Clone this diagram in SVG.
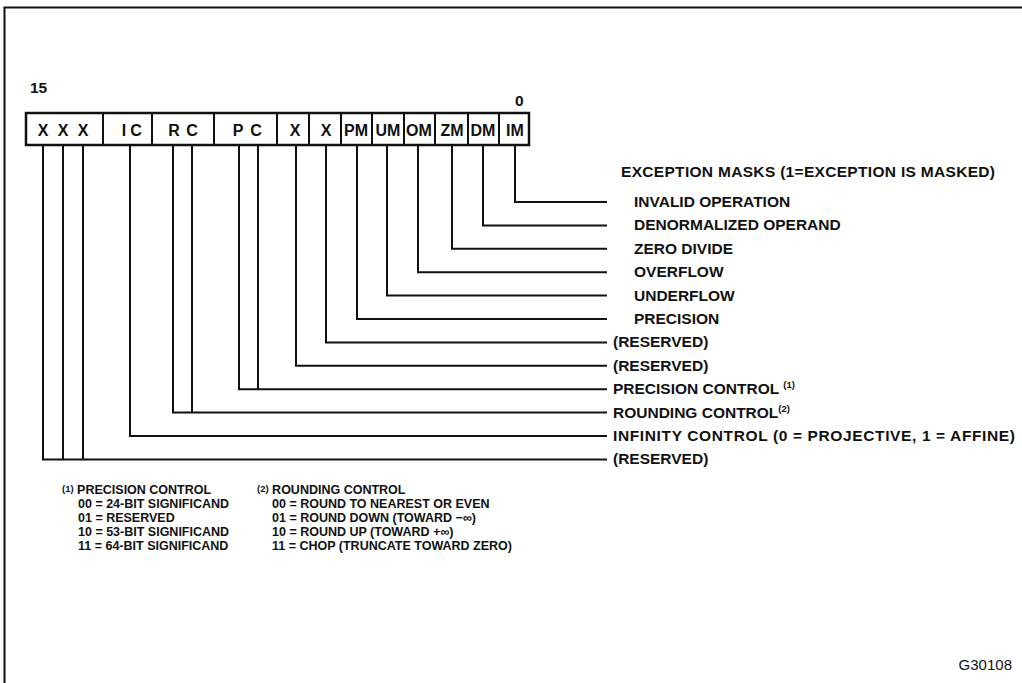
<svg xmlns="http://www.w3.org/2000/svg" width="1022" height="683" viewBox="0 0 1022 683">
<style>
.t{font-family:"Liberation Sans",Arial,sans-serif;font-weight:bold;fill:#111;}
.lbl{font-size:15.5px;}
.cell{font-size:16px;}
.fn{font-size:12.5px;}
.sup{font-size:9.5px;}
.plain{font-family:"Liberation Sans",Arial,sans-serif;font-weight:normal;font-size:15px;fill:#111;}
.ln{fill:none;stroke:#111;stroke-width:2;}
.box{fill:#fff;stroke:#111;stroke-width:2.5;}
</style>
<rect width="1022" height="683" fill="#fff"/>
<path d="M4.5,683 V7.5 H1022" class="ln" stroke-width="2.5"/>

<g id="register">
<rect x="26" y="113" width="503" height="32" class="box"/>
<path class="ln" d="M103,113V145 M152,113V145 M214,113V145 M277,113V145 M309,113V145 M341,113V145 M372,113V145 M404,113V145 M435,113V145 M468,113V145 M499,113V145"/>
<text class="t lbl" x="30" y="93">15</text>
<text class="t lbl" x="515" y="106">0</text>
<g class="t cell" text-anchor="middle">
<text x="43" y="136">X</text><text x="63" y="136">X</text><text x="83" y="136">X</text>
<text x="124" y="136">I</text><text x="136" y="136">C</text>
<text x="174" y="136">R</text><text x="192" y="136">C</text>
<text x="238" y="136">P</text><text x="256" y="136">C</text>
<text x="295" y="136">X</text><text x="326" y="136">X</text>
<text x="356" y="136">PM</text><text x="388" y="136">UM</text>
<text x="419" y="136">OM</text><text x="452" y="136">ZM</text>
<text x="483" y="136">DM</text><text x="515" y="136">IM</text>
</g>
</g>

<g id="connectors" class="ln">
<path d="M515,145V202H607"/>
<path d="M483,145V225.4H607"/>
<path d="M452,145V248.8H607"/>
<path d="M418,145V272.2H607"/>
<path d="M387,145V295.6H607"/>
<path d="M357,145V319H607"/>
<path d="M326,145V342.4H607"/>
<path d="M296,145V365.8H607"/>
<path d="M239,145V389.2H607 M258,145V389.2"/>
<path d="M173,145V412.6H607 M192,145V412.6"/>
<path d="M130,145V436H607"/>
<path d="M43,145V459.4H607 M63,145V459.4 M83,145V459.4"/>
</g>

<g id="labels" class="t lbl">
<text x="621" y="177" textLength="374">EXCEPTION MASKS (1=EXCEPTION IS MASKED)</text>
<text x="634" y="207">INVALID OPERATION</text>
<text x="634" y="230">DENORMALIZED OPERAND</text>
<text x="634" y="254">ZERO DIVIDE</text>
<text x="634" y="277">OVERFLOW</text>
<text x="634" y="301">UNDERFLOW</text>
<text x="634" y="324">PRECISION</text>
<text x="613" y="347">(RESERVED)</text>
<text x="613" y="371">(RESERVED)</text>
<text x="613" y="394">PRECISION CONTROL <tspan class="sup" dy="-6">(1)</tspan></text>
<text x="613" y="418">ROUNDING CONTROL<tspan class="sup" dy="-6">(2)</tspan></text>
<text x="613" y="441" textLength="402">INFINITY CONTROL (0 = PROJECTIVE, 1 = AFFINE)</text>
<text x="613" y="464">(RESERVED)</text>
</g>

<g id="footnote1" class="t fn">
<text x="62" y="494"><tspan class="sup" dy="-2">(1)</tspan><tspan dy="2"> PRECISION CONTROL</tspan></text>
<text x="78" y="508">00 = 24-BIT SIGNIFICAND</text>
<text x="78" y="522">01 = RESERVED</text>
<text x="78" y="536">10 = 53-BIT SIGNIFICAND</text>
<text x="78" y="550">11 = 64-BIT SIGNIFICAND</text>
</g>
<g id="footnote2" class="t fn">
<text x="257" y="494"><tspan class="sup" dy="-2">(2)</tspan><tspan dy="2"> ROUNDING CONTROL</tspan></text>
<text x="272" y="508">00 = ROUND TO NEAREST OR EVEN</text>
<text x="272" y="522">01 = ROUND DOWN (TOWARD −∞)</text>
<text x="272" y="536">10 = ROUND UP (TOWARD +∞)</text>
<text x="272" y="550">11 = CHOP (TRUNCATE TOWARD ZERO)</text>
</g>

<text id="figid" class="plain" x="1012" y="670" text-anchor="end">G30108</text>
</svg>
